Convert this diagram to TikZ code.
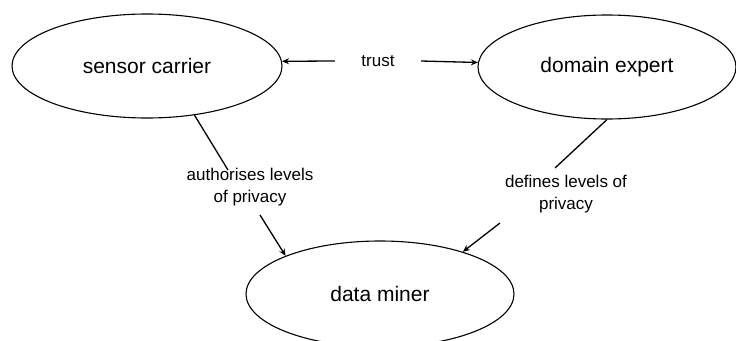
\documentclass[tikz,border=0pt]{standalone}
\usepackage{fontspec}
\setmainfont{Liberation Sans}
\usetikzlibrary{shapes.geometric, arrows.meta}

\begin{document}
\begin{tikzpicture}[x=1pt, y=-1pt, line width=1.3pt,
    actor/.style={draw, ellipse, line width=1.1pt, inner sep=0pt, font=\fontsize{21}{25}\selectfont},
    relation/.style={align=center, font=\fontsize{17}{21.5}\selectfont},
    link/.style={-{Stealth[length=7pt, width=6pt]}}]
  \clip (0,0) rectangle (736,340);

  % Akteure
  \node[actor, minimum width=270pt, minimum height=104pt] (sc) at (147,66) {sensor carrier};
  \node[actor, minimum width=258pt, minimum height=104pt] (de) at (607,67) {domain expert};
  \node[actor, minimum width=268pt, minimum height=106pt] (dm) at (380,294) {data miner};

  % Beziehungen
  \node[relation, inner xsep=26pt] (trust) at (378,61) {trust};
  \node[relation] (auth) at (250,187) {authorises levels\\of privacy};
  \node[relation] (def) at (566,194) {defines levels of\\privacy};

  % Enden der Verbindungen an den Texten
  \coordinate (authA) at (228,170);
  \coordinate (authB) at (260,215);
  \coordinate (defA) at (555,168);
  \coordinate (defB) at (500,223);

  % trust
  \draw[link] (trust.west) -- (sc.2);
  \draw[link] (trust.east) -- (de.178);

  % authorises levels of privacy
  \draw (sc.-46) -- (authA);
  \draw[link] (authB) -- (dm.158);

  % defines levels of privacy
  \draw (de.south) -- (defA);
  \draw[link] (defB) -- (dm.27);

\end{tikzpicture}
\end{document}
